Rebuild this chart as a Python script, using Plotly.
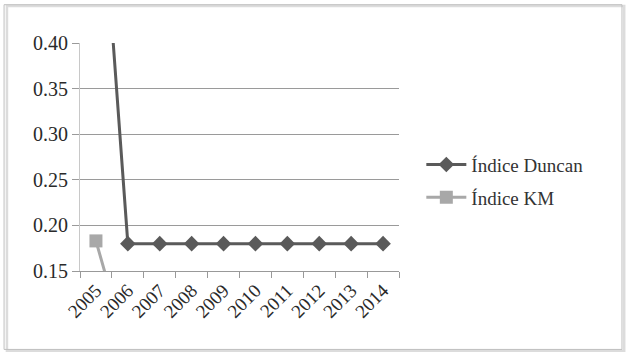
import plotly.graph_objects as go

years = ["2005", "2006", "2007", "2008", "2009", "2010", "2011", "2012", "2013", "2014"]
duncan = [0.66, 0.18, 0.18, 0.18, 0.18, 0.18, 0.18, 0.18, 0.18, 0.18]
km = [0.183, 0.06, 0.06, 0.06, 0.06, 0.06, 0.06, 0.06, 0.06, 0.06]
y_ticks = [0.15, 0.20, 0.25, 0.30, 0.35, 0.40]

FONT = "Liberation Serif, Times New Roman, serif"

fig = go.Figure()
fig.add_trace(go.Scatter(
    x=years, y=duncan, name="Índice Duncan", mode="lines+markers",
    line=dict(color="#5a5a5a", width=3),
    marker=dict(symbol="diamond", size=12, color="#5a5a5a"),
    legendgroup="a", cliponaxis=True,
))
fig.add_trace(go.Scatter(
    x=years, y=km, name="Índice KM", mode="lines+markers",
    line=dict(color="#a8a8a8", width=3),
    marker=dict(symbol="square", size=13, color="#a8a8a8"),
    legendgroup="b", cliponaxis=True,
))

fig.update_layout(
    width=631, height=357,
    margin=dict(l=80, r=232, t=43, b=86, autoexpand=False),
    paper_bgcolor="white", plot_bgcolor="white",
    font=dict(family=FONT, size=18, color="#333333"),
    showlegend=True,
    legend=dict(
        x=1.07, y=0.394, xanchor="left", yanchor="middle",
        traceorder="grouped", tracegroupgap=5,
        itemwidth=40,
        font=dict(family=FONT, size=19, color="#333333"),
        bgcolor="rgba(0,0,0,0)",
    ),
    xaxis=dict(
        type="category", tickson="boundaries", tickangle=-45,
        showgrid=False, ticks="outside", ticklen=6, tickcolor="#999999",
        showline=True, linecolor="#999999", linewidth=1,
        tickfont=dict(family=FONT, size=19, color="#2a2a2a"),
        range=[-0.5, 9.5], fixedrange=True,
    ),
    yaxis=dict(
        range=[0.15, 0.40], tickvals=y_ticks, tickformat=".2f",
        showgrid=True, gridcolor="#9a9a9a", gridwidth=1,
        ticks="outside", ticklen=7, tickcolor="#9a9a9a",
        showline=True, linecolor="#c8c8c8", linewidth=1,
        zeroline=False,
        tickfont=dict(family=FONT, size=20, color="#2a2a2a"),
    ),
    shapes=[
        dict(type="rect", xref="paper", yref="paper",
             x0=-0.229, x1=1.706, y0=-0.35, y1=1.162,
             line=dict(color="#dcdcdc", width=2.5), layer="below"),
        dict(type="rect", xref="paper", yref="paper",
             x0=-0.238, x1=1.699, y0=-0.344, y1=1.168,
             line=dict(color="#bfbfbf", width=1), layer="below"),
    ],
)

fig.write_html("out.html", config={"displayModeBar": False},
               post_script="document.body.style.margin='0';")
